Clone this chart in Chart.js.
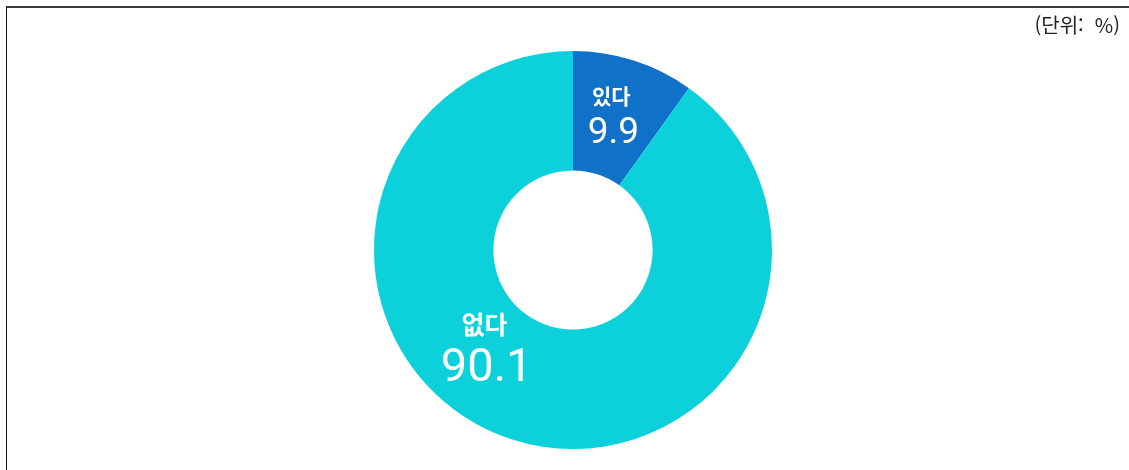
<!DOCTYPE html>
<html lang="ko">
<head>
<meta charset="utf-8">
<script src="https://cdn.jsdelivr.net/npm/chart.js@4/dist/chart.umd.min.js"></script>
<style>
  html, body { margin: 0; padding: 0; background: #fff; }
  #wrap { position: relative; width: 1129px; height: 470px; overflow: hidden; }
  #frame { position: absolute; left: 6px; top: 6px; right: -10px; bottom: -10px;
           border-top: 2px solid #3a3a3a; border-left: 1px solid #111; }
  #unit { position: absolute; right: 9px; top: 10px; font: 20px "Noto Sans CJK KR", sans-serif;
          color: #222; white-space: pre; }
  #chart { position: absolute; left: 0; top: 0; }
</style>
</head>
<body>
<div id="wrap">
  <div id="frame"></div>
  <canvas id="chart" width="1129" height="470"></canvas>
  <div id="unit">(단위:  %)</div>
</div>
<script>
// 항목, 값(%), 색상
const categories = ['있다', '없다'];
const values = [9.9, 90.1];
const colors = ['#1071c8', '#0cd1da'];
// 라벨 위치 보정 (도, 반지름 비율)
const labelShift = [-1, 23];
const labelRadius = [0.5, 0.44];
const nameSizes = [21, 25];
const valueSizes = [37, 47];

// 조각 안에 항목명과 값을 그리는 플러그인
const sliceLabels = {
  id: 'sliceLabels',
  afterDatasetsDraw(chart) {
    const ctx = chart.ctx;
    const meta = chart.getDatasetMeta(0);
    meta.data.forEach((arc, i) => {
      const p = arc.getProps(['x', 'y', 'startAngle', 'endAngle', 'innerRadius', 'outerRadius'], true);
      const mid = (p.startAngle + p.endAngle) / 2 + labelShift[i] * Math.PI / 180;
      const r = p.innerRadius + (p.outerRadius - p.innerRadius) * labelRadius[i];
      const x = p.x + Math.cos(mid) * r;
      const y = p.y + Math.sin(mid) * r;
      ctx.save();
      ctx.fillStyle = '#fff';
      ctx.textAlign = 'center';
      ctx.textBaseline = 'middle';
      ctx.font = '600 ' + nameSizes[i] + 'px "Noto Sans CJK KR", sans-serif';
      ctx.fillText(categories[i], x - 2, y - valueSizes[i] * 0.5 - 2);
      ctx.font = valueSizes[i] + 'px Roboto, "Noto Sans CJK KR", sans-serif';
      ctx.fillText(values[i].toFixed(1), x, y + nameSizes[i] * 0.55 + 6);
      ctx.restore();
    });
  }
};

new Chart(document.getElementById('chart'), {
  type: 'doughnut',
  data: {
    labels: categories,
    datasets: [{
      data: values,
      backgroundColor: colors,
      borderWidth: 0,
      hoverOffset: 0
    }]
  },
  options: {
    responsive: false,
    animation: false,
    cutout: '40%',
    layout: { padding: { top: 51, bottom: 21, left: 17, right: 0 } },
    plugins: {
      legend: { display: false },
      tooltip: { enabled: false }
    }
  },
  plugins: [sliceLabels]
});
</script>
</body>
</html>
